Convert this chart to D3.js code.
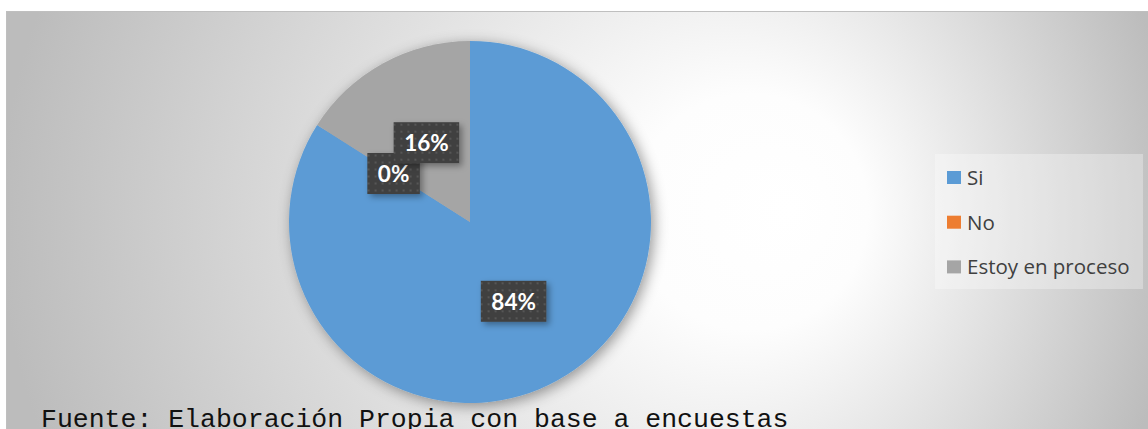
<!DOCTYPE html>
<html>
<head>
<meta charset="utf-8">
<script src="https://cdn.jsdelivr.net/npm/d3@7"></script>
<style>
  html, body { margin: 0; padding: 0; background: #fff; }
  svg { display: block; }
</style>
</head>
<body>
<div id="chart"></div>
<script>
// data
var categories = ['Si', 'No', 'Estoy en proceso'];
var values = [84, 0, 16];
var colors = ['#5B9BD5', '#ED7D31', '#A5A5A5'];
var sourceText = 'Fuente: Elaboración Propia con base a encuestas';

var fullWidth = 1148;
var fullHeight = 429;

var svg = d3.select('#chart').append('svg')
  .attr('width', fullWidth)
  .attr('height', fullHeight);

var defs = svg.append('defs');

// background shading, white in the middle and grey at the edges
var bg = defs.append('radialGradient')
  .attr('id', 'bgGrad')
  .attr('gradientUnits', 'userSpaceOnUse')
  .attr('cx', 590).attr('cy', 220).attr('r', 590)
  .attr('fx', 790).attr('fy', 210);
bg.append('stop').attr('offset', '0').attr('stop-color', '#ffffff');
bg.append('stop').attr('offset', '0.2').attr('stop-color', '#fdfdfd');
bg.append('stop').attr('offset', '1').attr('stop-color', '#bcbcbc');

var shadow = defs.append('filter').attr('id', 'pieShadow')
  .attr('x', '-20%').attr('y', '-20%').attr('width', '140%').attr('height', '140%');
shadow.append('feDropShadow')
  .attr('dx', 3).attr('dy', 3).attr('stdDeviation', 7)
  .attr('flood-color', '#000').attr('flood-opacity', 0.4);

var boxShadow = defs.append('filter').attr('id', 'boxShadow')
  .attr('x', '-20%').attr('y', '-20%').attr('width', '150%').attr('height', '160%');
boxShadow.append('feDropShadow')
  .attr('dx', 3).attr('dy', 3).attr('stdDeviation', 3)
  .attr('flood-color', '#000').attr('flood-opacity', 0.35);

var dots = defs.append('pattern')
  .attr('id', 'dots')
  .attr('patternUnits', 'userSpaceOnUse')
  .attr('width', 7).attr('height', 7);
dots.append('rect').attr('width', 7).attr('height', 7).attr('fill', '#404040');
dots.append('rect').attr('x', 2).attr('y', 2).attr('width', 2).attr('height', 2).attr('fill', '#575757');

// chart area
svg.append('rect')
  .attr('x', 6.5).attr('y', 11.5)
  .attr('width', fullWidth).attr('height', fullHeight)
  .attr('fill', 'url(#bgGrad)')
  .attr('stroke', '#bfbfbf')
  .attr('stroke-width', 1);

// pie
var cx = 470, cy = 222, radius = 181;

var pie = d3.pie().sort(null).value(function(d) { return d; });
var arcs = pie(values);
var arc = d3.arc().innerRadius(0).outerRadius(radius);

var pieG = svg.append('g')
  .attr('transform', 'translate(' + cx + ',' + cy + ')');

pieG.append('g')
  .attr('filter', 'url(#pieShadow)')
  .selectAll('path')
  .data(arcs)
  .enter().append('path')
    .attr('d', arc)
    .attr('fill', function(d, i) { return colors[i]; });

// data labels in dark boxes at the slice centroids
var labelG = pieG.selectAll('g.label')
  .data(arcs)
  .enter().append('g')
    .classed('label', true)
    .attr('transform', function(d) {
      var c = arc.centroid(d);
      return 'translate(' + c[0] + ',' + c[1] + ')';
    });

labelG.each(function(d) {
  var g = d3.select(this);
  var rect = g.append('rect').attr('fill', 'url(#dots)').attr('filter', 'url(#boxShadow)');
  var t = g.append('text')
    .attr('text-anchor', 'middle')
    .attr('y', 8.5)
    .style('font-family', 'Lato, "Open Sans", sans-serif')
    .style('font-weight', 'bold')
    .style('font-size', '22.5px')
    .style('fill', '#ffffff')
    .text(Math.round(d.data) + '%');
  var w = t.node().getComputedTextLength() + 21;
  rect.attr('x', -w / 2).attr('y', -20.5).attr('width', w).attr('height', 41);
});

// legend
var legend = svg.append('g');
legend.append('rect')
  .attr('x', 935).attr('y', 154)
  .attr('width', 208).attr('height', 135)
  .attr('fill', '#ffffff')
  .attr('fill-opacity', 0.3);

var item = legend.selectAll('g.item')
  .data(categories)
  .enter().append('g')
    .classed('item', true)
    .attr('transform', function(d, i) { return 'translate(947,' + (171 + i * 44.7) + ')'; });

item.append('rect')
  .attr('width', 14).attr('height', 13)
  .attr('fill', function(d, i) { return colors[i]; });

item.append('text')
  .attr('x', 20).attr('y', 14)
  .style('font-family', '"Open Sans", Lato, sans-serif')
  .style('font-size', '20.5px')
  .style('fill', '#404040')
  .text(function(d) { return d; });

// source line at the bottom
svg.append('text')
  .attr('x', 41).attr('y', 427)
  .style('font-family', '"Liberation Mono", "Courier New", monospace')
  .style('font-size', '26.5px')
  .style('fill', '#111')
  .text(sourceText);
</script>
</body>
</html>
